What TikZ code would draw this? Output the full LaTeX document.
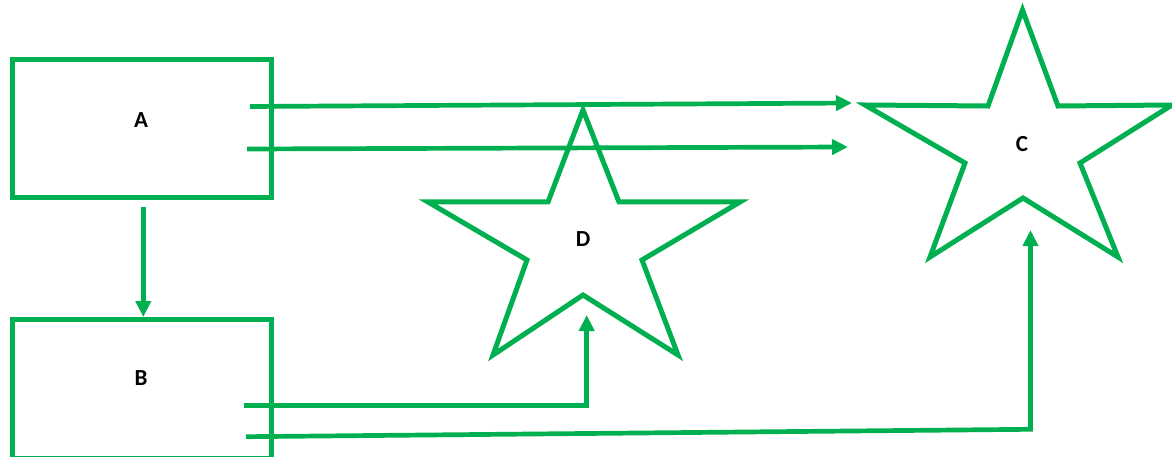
\documentclass[tikz,border=0pt]{standalone}
\usepackage{fontspec}
\setmainfont{Carlito}
\usetikzlibrary{arrows.meta}
\definecolor{offgreen}{RGB}{0,176,80}
\tikzset{
  boxnode/.style={draw=offgreen, line width=5pt, rectangle, inner sep=0pt},
  starline/.style={draw=offgreen, line width=5pt, line join=miter},
  conn/.style={draw=offgreen, line width=4.7pt, -{Triangle[length=16pt,width=15pt]}},
  lbl/.style={font=\fontsize{23}{25}\selectfont\bfseries, text=black, inner sep=0pt}
}
\begin{document}
\begin{tikzpicture}[x=1pt,y=-1pt]
\useasboundingbox (0,0) rectangle (1172,457);
\begin{scope}
\clip (0,0) rectangle (1172,457);
% boxes
\node[boxnode, minimum width=259.5pt, minimum height=137.5pt] (A) at (141.75,128.75) {};
\node[boxnode, minimum width=259.5pt, minimum height=139pt] (B) at (141.75,388.5) {};
\node[lbl] (Alab) at (141,120.5) {A};
\node[lbl] (Blab) at (141,378.5) {B};
% star C
\draw[starline] (1022.5,10) -- (1058,106) -- (1172,105) -- (1080,163) -- (1118,257)
  -- (1023,198) -- (930,257) -- (965,163) -- (865,105) -- (988,106) -- cycle;
\node[lbl] (C) at (1022,144.5) {C};
% star D
\draw[starline] (583,110) -- (619,202) -- (740,202) -- (642,260) -- (678,355)
  -- (583,295) -- (493,355) -- (527,260) -- (428,202) -- (548,202) -- cycle;
\node[lbl] (D) at (583,239.5) {D};
% connector end points
\coordinate (a1) at (250,106.5);
\coordinate (c1) at (852,103);
\coordinate (a2) at (247,149);
\coordinate (c2) at (848,147);
\coordinate (a3) at (143.3,207);
\coordinate (b3) at (143.3,317);
\coordinate (b1) at (244,405.3);
\coordinate (k1) at (586.7,405.3);
\coordinate (d1) at (586.7,315);
\coordinate (b2) at (246,436.7);
\coordinate (k2) at (1030.5,429.3);
\coordinate (c3) at (1030.5,230);
% connectors
\draw[conn] (a1) -- (c1);
\draw[conn] (a2) -- (c2);
\draw[conn] (a3) -- (b3);
\draw[conn] (b1) -- (k1) -- (d1);
\draw[conn] (b2) -- (k2) -- (c3);
\end{scope}
\end{tikzpicture}
\end{document}
